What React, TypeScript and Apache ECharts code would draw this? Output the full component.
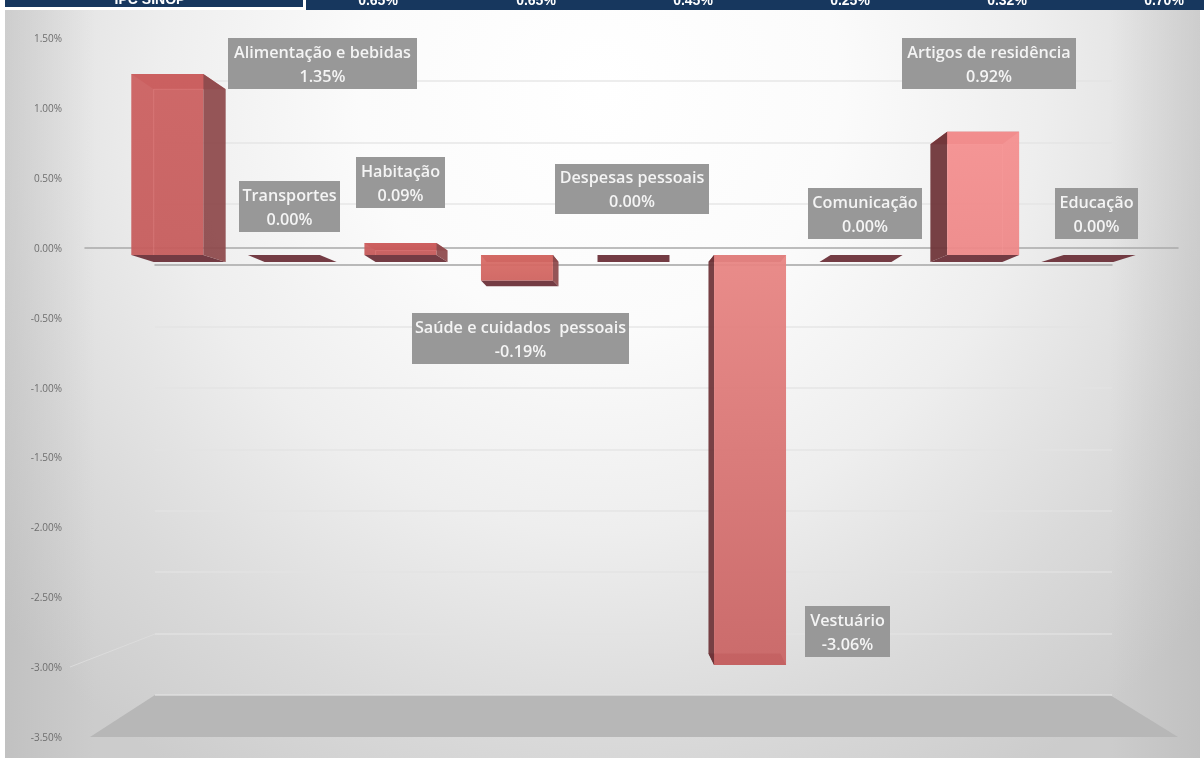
import React, { useEffect, useRef } from "react";
import * as echarts from "echarts";

const categories = ["Alimentação e bebidas", "Transportes", "Habitação", "Saúde e cuidados  pessoais", "Despesas pessoais", "Vestuário", "Comunicação", "Artigos de residência", "Educação"];
const values = [1.35, 0.0, 0.09, -0.19, 0.0, -3.06, 0.0, 0.92, 0.0];
const faceTop = ["#cc6060", "#cc6060", "#cf6060", "#d96c66", "#d97070", "#e88583", "#e88583", "#f59090", "#f59090"];
const faceBottom = ["#c65c5c", "#c65c5c", "#c45858", "#cf625e", "#cf6666", "#c96464", "#e88583", "#ee8888", "#ee8888"];
const headerLeft = "IPC SINOP";
const headerValues = ["0.65%", "0.65%", "0.45%", "0.25%", "0.32%", "0.70%"];
const headerCentres = [378, 536, 693, 850, 1007, 1164];
const labelBoxes = [
  [228, 38, 417, 89], [239, 181, 340, 232], [356, 157, 445, 208],
  [412, 313, 629, 364], [555, 164, 709, 214], [805, 606, 890, 657],
  [808, 188, 922, 239], [902, 38, 1076, 89], [1055, 188, 1138, 239],
];
const wallPolygon = [[90, 737], [155, 695], [1110, 695], [1178, 737]];

const W = 1204, H = 758;

function renderBar(_: any, api: any) {
  const i = api.value(0), v = api.value(1);
  const base = api.coord([i, 0]);
  const tip = api.coord([i, v]);
  const hw = (api.size([1, 0])[0] * 36) / 116.6;
  const dx = 5.6 * (4 - i), dy = 7, k = 0.955;
  const x0 = base[0] - hw, x1 = base[0] + hw;
  const y0 = base[1], y1 = tip[1];
  const fb = y0 + dy, ft = fb + (y1 - y0) * k;
  const dark = "#6b3038";
  const side = i < 4 ? "#8e4a4c" : "#6e3438";
  const sideX = dx >= 0 ? x1 : x0;
  const children: any[] = [];
  const poly = (points: number[][], fill: any, opacity = 0.94) => ({
    type: "polygon", shape: { points }, style: { fill, opacity }, silent: true,
  });
  children.push(poly([[x0, y0], [x1, y0], [x1 + dx, fb], [x0 + dx, fb]], dark));
  if (v !== 0) {
    children.push(poly([[x0, y1], [x1, y1], [x1 + dx, ft], [x0 + dx, ft]], v > 0 ? "#b9575a" : dark));
    children.push(poly([[sideX, y1], [sideX + dx, ft], [sideX + dx, fb], [sideX, y0]], side));
    children.push({
      type: "rect",
      shape: { x: x0, y: Math.min(y0, y1), width: x1 - x0, height: Math.abs(y1 - y0) },
      style: {
        opacity: 0.94,
        fill: new echarts.graphic.LinearGradient(0, 0, 0, 1, [
          { offset: 0, color: faceTop[i] },
          { offset: 1, color: faceBottom[i] },
        ]),
      },
      silent: true,
    });
    if (v > 0) {
      const inner = dx >= 0 ? x0 + dx : x1 + dx;
      children.push({
        type: "polyline",
        shape: { points: [[inner, y0], [inner, ft], [dx >= 0 ? x1 : x0, ft]] },
        style: { stroke: "rgba(255,170,170,0.22)", lineWidth: 1, fill: "none" },
        silent: true,
      });
    }
  }
  return { type: "group", children };
}

function renderLabel(_: any, api: any) {
  const i = api.value(0), v = api.value(1);
  const [a, b, c, d] = labelBoxes[i];
  return {
    type: "group",
    children: [
      { type: "rect", shape: { x: a, y: b, width: c - a, height: d - b }, style: { fill: "#989898" }, silent: true },
      {
        type: "text",
        silent: true,
        style: {
          x: (a + c) / 2,
          y: (b + d) / 2,
          text: `${categories[i]}\n${v.toFixed(2)}%`,
          fill: "#f4f4f4",
          align: "center",
          verticalAlign: "middle",
          font: '600 16.2px "Open Sans"',
          lineHeight: 24,
        },
      },
    ],
  };
}

export default function App() {
  const ref = useRef<HTMLDivElement>(null);
  useEffect(() => {
    if (!ref.current) return;
    const chart = echarts.init(ref.current, null, { renderer: "svg", width: W, height: H });
    const hidden = { axisLabel: { show: false }, axisTick: { show: false }, axisLine: { show: false }, splitLine: { show: false } };
    const data = categories.map((_, i) => [i, values[i]]);
    const navy = "#17375e";
    chart.setOption({
      animation: false,
      backgroundColor: "#ffffff",
      graphic: {
        elements: [
          {
            type: "rect", z: -20, shape: { x: 5, y: 10, width: 1195, height: 748 },
            style: {
              fill: new echarts.graphic.RadialGradient(600, 90, 800, [
                { offset: 0, color: "#ffffff" },
                { offset: 0.3, color: "#fbfbfb" },
                { offset: 0.55, color: "#eeeeee" },
                { offset: 0.8, color: "#dadada" },
                { offset: 1, color: "#cccccc" },
              ], true),
            },
            silent: true,
          },
          {
            type: "rect", z: -19, shape: { x: 5, y: 10, width: 90, height: 748 },
            style: { fill: new echarts.graphic.LinearGradient(0, 0, 1, 0, [
              { offset: 0, color: "rgba(170,170,170,0.32)" }, { offset: 1, color: "rgba(170,170,170,0)" },
            ]) },
            silent: true,
          },
          {
            type: "rect", z: -19, shape: { x: 1110, y: 10, width: 90, height: 748 },
            style: { fill: new echarts.graphic.LinearGradient(0, 0, 1, 0, [
              { offset: 0, color: "rgba(170,170,170,0)" }, { offset: 1, color: "rgba(170,170,170,0.32)" },
            ]) },
            silent: true,
          },
          { type: "polygon", z: -18, shape: { points: wallPolygon }, style: { fill: "#b7b7b7" }, silent: true },
          { type: "line", z: -18, shape: { x1: 70, y1: 667, x2: 155, y2: 634 }, style: { stroke: "#dcdcdc", lineWidth: 1 }, silent: true },
          { type: "rect", z: 10, shape: { x: 5, y: 0, width: 298, height: 7 }, style: { fill: navy }, silent: true },
          { type: "rect", z: 10, shape: { x: 306, y: 0, width: 898, height: 10 }, style: { fill: navy }, silent: true },
          {
            type: "text", z: 11, silent: true,
            style: { x: 150, y: -1, text: headerLeft, fill: "#ffffff", align: "center", verticalAlign: "middle", font: 'bold 14px "Liberation Sans"' },
          },
          ...headerValues.map((t, i) => ({
            type: "text", z: 11, silent: true,
            style: { x: headerCentres[i], y: 0, text: t, fill: "#ffffff", align: "center", verticalAlign: "middle", font: 'bold 14px "Liberation Sans"' },
          })),
        ],
      },
      grid: [
        { left: 85, width: 1093, top: 38, height: 699 },
        { left: 155, width: 957, top: 81, height: 614 },
        { left: 109, width: 1049, top: 54, height: 670 },
      ],
      xAxis: [
        { gridIndex: 0, type: "category", data: categories, axisLabel: { show: false }, axisTick: { show: false }, splitLine: { show: false }, axisLine: { onZero: true, lineStyle: { color: "#a9a9a9", width: 1.5 } } },
        { gridIndex: 1, type: "category", data: categories, axisLabel: { show: false }, axisTick: { show: false }, splitLine: { show: false }, axisLine: { onZero: true, lineStyle: { color: "#a9a9a9", width: 1.5 } } },
        { gridIndex: 2, type: "category", data: categories, ...hidden },
      ],
      yAxis: [
        {
          gridIndex: 0, type: "value", min: -3.5, max: 1.5, interval: 0.5,
          axisTick: { show: false }, axisLine: { show: false }, splitLine: { show: false },
          axisLabel: { color: "#6e6e6e", fontSize: 10, fontFamily: "Open Sans", margin: 23, formatter: (v: number) => `${v.toFixed(2)}%` },
        },
        {
          gridIndex: 1, type: "value", min: -3.5, max: 1.5, interval: 0.5,
          axisTick: { show: false }, axisLine: { show: false }, axisLabel: { show: false },
          splitLine: { show: true, lineStyle: { color: "#e2e2e2", width: 1.5, opacity: 0.85 } },
        },
        { gridIndex: 2, type: "value", min: -3.5, max: 1.5, interval: 0.5, ...hidden },
      ],
      series: [
        { type: "custom", xAxisIndex: 2, yAxisIndex: 2, data, encode: { x: 0, y: 1 }, renderItem: renderBar, z: 3, silent: true, clip: false },
        { type: "custom", xAxisIndex: 2, yAxisIndex: 2, data, encode: { x: 0, y: 1 }, renderItem: renderLabel, z: 5, silent: true, clip: false },
      ],
    });
    return () => chart.dispose();
  }, []);
  return <div ref={ref} style={{ position: "absolute", left: 0, top: 0, width: W, height: H, filter: "blur(0.6px)" }} />;
}
